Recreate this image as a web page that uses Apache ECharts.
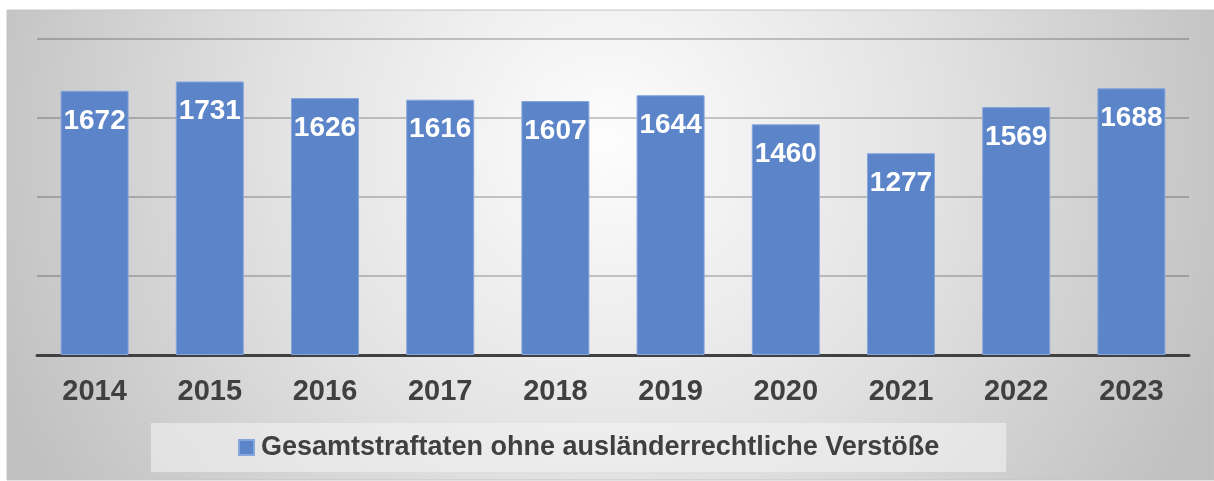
<!DOCTYPE html>
<html>
<head>
<meta charset="utf-8">
<script src="https://cdn.jsdelivr.net/npm/echarts@6/dist/echarts.min.js"></script>
<style>
html,body{margin:0;padding:0;background:#ffffff;}
#chart{width:1214px;height:481px;}
</style>
</head>
<body>
<div id="chart"></div>
<script>
const categories = ['2014','2015','2016','2017','2018','2019','2020','2021','2022','2023'];
const values = [1672, 1731, 1626, 1616, 1607, 1644, 1460, 1277, 1569, 1688];
const seriesName = 'Gesamtstraftaten ohne ausländerrechtliche Verstöße';

const FONT = '"Liberation Sans", Arial, sans-serif';
const chart = echarts.init(document.getElementById('chart'), null, {renderer: 'canvas'});
chart.setOption({
  animation: false,
  graphic: [{
    type: 'rect',
    z: -10,
    silent: true,
    shape: {x: 7, y: 10, width: 1207, height: 470},
    style: {
      fill: new echarts.graphic.RadialGradient(607, 140, 660, [
        {offset: 0, color: '#fdfdfd'},
        {offset: 0.5, color: '#e2e2e2'},
        {offset: 1, color: '#c0c0c0'}
      ], true),
      stroke: '#c4c4c4',
      lineWidth: 1
    }
  }],
  grid: {left: 37, right: 25, top: 39, bottom: 126, containLabel: false},
  legend: {
    left: 151,
    top: 423,
    padding: [11, 67, 11, 87],
    backgroundColor: 'rgba(242,242,242,0.6)',
    itemWidth: 15,
    itemHeight: 15,
    itemGap: 0,
    icon: 'rect',
    textStyle: {fontFamily: FONT, fontSize: 27, fontWeight: 'bold', color: '#404040', padding: [0, 0, 0, 2]},
    data: [seriesName]
  },
  xAxis: {
    type: 'category',
    data: categories,
    axisLine: {lineStyle: {color: '#404040', width: 3}},
    axisTick: {show: false},
    axisLabel: {fontFamily: FONT, fontSize: 29, fontWeight: 'bold', color: '#404040', margin: 22}
  },
  yAxis: {
    type: 'value',
    min: 0,
    max: 2000,
    interval: 500,
    axisLabel: {show: false},
    axisLine: {show: false},
    axisTick: {show: false},
    splitLine: {lineStyle: {color: 'rgba(0,0,0,0.2)', width: 2}}
  },
  series: [{
    name: seriesName,
    type: 'bar',
    data: values,
    barWidth: 68,
    itemStyle: {color: '#5b84c9', borderColor: '#85a5dc', borderWidth: 1},
    label: {
      show: true,
      position: 'insideTop',
      distance: 16,
      fontFamily: FONT,
      fontSize: 28,
      fontWeight: 'bold',
      color: '#ffffff'
    }
  }]
});
</script>
</body>
</html>
